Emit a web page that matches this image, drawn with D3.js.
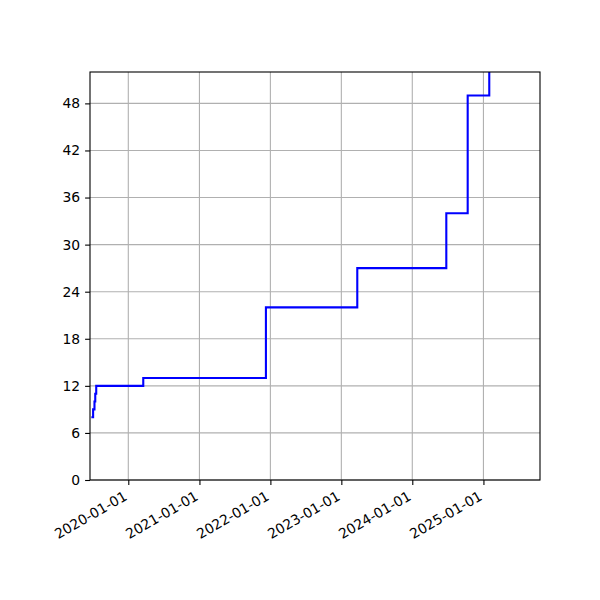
<!DOCTYPE html>
<html>
<head>
<meta charset="utf-8">
<script src="https://cdn.jsdelivr.net/npm/d3@7"></script>
<style>
  body { margin: 0; background: #fff; }
</style>
</head>
<body>
<div id="chart"></div>
<script>
// step data
var stepDates = ["2019-06-25", "2019-07-04", "2019-07-11", "2019-07-15", "2019-07-20",
                 "2020-03-18", "2021-12-09", "2023-03-24", "2024-06-24", "2024-10-12", "2025-01-31"];
var stepValues = [8, 9, 10, 11, 12, 13, 22, 27, 34, 49, 56];
var xTickDates = ["2020-01-01", "2021-01-01", "2022-01-01", "2023-01-01", "2024-01-01", "2025-01-01"];
var yTicks = [0, 6, 12, 18, 24, 30, 36, 42, 48];
var xDomain = ["2019-06-18", "2025-10-19"];
var yDomain = [0, 52];

(function() {
    'use strict';

    var width = 600, height = 600;
    var left = 90, right = 540, top = 72, bottom = 480;
    var font = "'DejaVu Sans', sans-serif";
    var parse = d3.utcParse("%Y-%m-%d");
    var fmt = d3.utcFormat("%Y-%m-%d");

    var svg = d3.select("#chart").append("svg")
        .attr("width", width)
        .attr("height", height);

    var x = d3.scaleUtc()
        .domain(xDomain.map(parse))
        .range([left, right]);
    var y = d3.scaleLinear()
        .domain(yDomain)
        .range([bottom, top]);

    // grid lines
    var grid = svg.append("g").attr("class", "grid");
    xTickDates.forEach(function(d) {
        var px = x(parse(d));
        grid.append("line")
            .attr("x1", px).attr("x2", px)
            .attr("y1", top).attr("y2", bottom)
            .style("stroke", "#b0b0b0")
            .style("stroke-width", 1.1);
    });
    yTicks.forEach(function(v) {
        grid.append("line")
            .attr("x1", left).attr("x2", right)
            .attr("y1", y(v)).attr("y2", y(v))
            .style("stroke", "#b0b0b0")
            .style("stroke-width", 1.1);
    });

    // step line
    svg.append("clipPath").attr("id", "plot-clip")
        .append("rect")
        .attr("x", left).attr("y", top)
        .attr("width", right - left).attr("height", bottom - top);

    var pts = stepDates.map(function(d, i) {
        return { date: parse(d), value: stepValues[i] };
    });

    var line = d3.line()
        .x(function(d) { return x(d.date); })
        .y(function(d) { return y(d.value); })
        .curve(d3.curveStepAfter);

    svg.append("path")
        .datum(pts)
        .attr("clip-path", "url(#plot-clip)")
        .attr("d", line)
        .style("fill", "none")
        .style("stroke", "#0000ff")
        .style("stroke-width", 2.1)
        .style("stroke-linejoin", "miter");

    // axes
    var xAxis = d3.axisBottom(x)
        .tickValues(xTickDates.map(parse))
        .tickSize(4.9)
        .tickPadding(4.9)
        .tickFormat(fmt);
    var gx = svg.append("g")
        .attr("transform", "translate(0," + bottom + ")")
        .call(xAxis)
        .attr("font-family", font)
        .attr("font-size", "13.9px");
    gx.select(".domain").remove();
    gx.selectAll("line").style("stroke", "#000").style("stroke-width", 1.1);
    gx.selectAll("text")
        .style("fill", "#000")
        .attr("text-anchor", "end")
        .attr("y", 0)
        .attr("dy", "0.76em")
        .attr("transform", "translate(-6,9.8) rotate(-30)");

    var yAxis = d3.axisLeft(y)
        .tickValues(yTicks)
        .tickSize(4.9)
        .tickPadding(4.9);
    var gy = svg.append("g")
        .attr("transform", "translate(" + left + ",0)")
        .call(yAxis)
        .attr("font-family", font)
        .attr("font-size", "13.9px");
    gy.select(".domain").remove();
    gy.selectAll("line").style("stroke", "#000").style("stroke-width", 1.1);
    gy.selectAll("text").style("fill", "#000");

    // frame
    svg.append("rect")
        .attr("x", left).attr("y", top)
        .attr("width", right - left).attr("height", bottom - top)
        .style("fill", "none")
        .style("stroke", "#000")
        .style("stroke-width", 1.1);
})();
</script>
</body>
</html>
